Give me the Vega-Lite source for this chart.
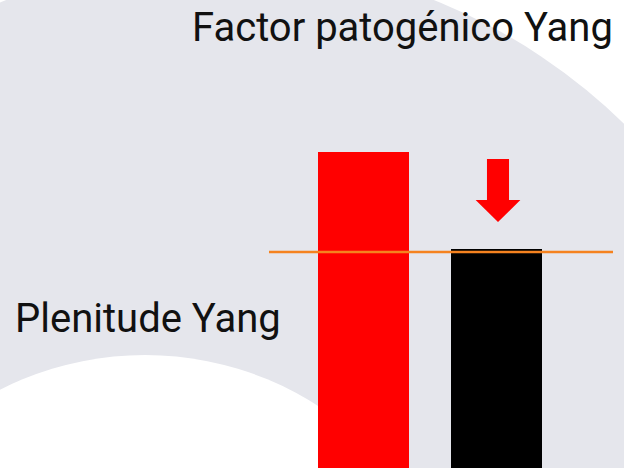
{
  "$schema": "https://vega.github.io/schema/vega-lite/v6.json",
  "width": 624,
  "height": 468,
  "autosize": {"type": "fit", "contains": "padding"},
  "padding": 0,
  "background": "#ffffff",
  "config": {"view": {"stroke": null}},
  "datasets": {
    "circles": [
      {"name": "grande", "cx": 220, "cy": -69, "d": 1156, "color": "#e5e6ec"},
      {"name": "pequeno", "cx": 145, "cy": -207, "d": 640, "color": "#ffffff"}
    ],
    "bars": [
      {"name": "Factor patogénico Yang", "x0": 318, "x1": 409, "top": 316, "color": "#ff0000"},
      {"name": "Plenitude Yang", "x0": 451, "x1": 542, "top": 219, "color": "#000000"}
    ],
    "line": [{"x0": 269, "x1": 613, "y": 216}],
    "arrow": [{"x": 498, "y": 277.5}],
    "labels": [
      {"text": "Factor patogénico Yang", "x": 192, "y": 427},
      {"text": "Plenitude Yang", "x": 15, "y": 136}
    ]
  },
  "encoding": {},
  "layer": [
    {
      "data": {"name": "circles"},
      "mark": {"type": "point", "shape": "circle", "filled": true, "opacity": 1, "clip": true, "strokeWidth": 0},
      "encoding": {
        "x": {"field": "cx", "type": "quantitative", "scale": {"domain": [0, 624], "nice": false, "zero": false}, "axis": null},
        "y": {"field": "cy", "type": "quantitative", "scale": {"domain": [0, 468], "nice": false, "zero": false}, "axis": null},
        "size": {"field": "d", "type": "quantitative", "scale": {"type": "pow", "exponent": 2, "domain": [0, 1], "range": [0, 1]}, "legend": null},
        "color": {"field": "color", "type": "nominal", "scale": null, "legend": null},
        "order": {"field": "d", "sort": "descending"}
      }
    },
    {
      "data": {"name": "bars"},
      "mark": {"type": "rect", "clip": true},
      "encoding": {
        "x": {"field": "x0", "type": "quantitative"},
        "x2": {"field": "x1"},
        "y": {"field": "top", "type": "quantitative"},
        "y2": {"datum": -20},
        "color": {"field": "color", "type": "nominal", "scale": null, "legend": null}
      }
    },
    {
      "data": {"name": "line"},
      "mark": {"type": "rule", "color": "#f5821f", "strokeWidth": 2.5},
      "encoding": {
        "x": {"field": "x0", "type": "quantitative"},
        "x2": {"field": "x1"},
        "y": {"field": "y", "type": "quantitative"}
      }
    },
    {
      "data": {"name": "arrow"},
      "mark": {"type": "point", "filled": true, "opacity": 1, "color": "#ff0000", "strokeWidth": 0, "size": 3969,
        "shape": "M-0.35,-1L0.35,-1L0.35,0.3L0.71,0.3L0,1L-0.71,0.3L-0.35,0.3Z"},
      "encoding": {
        "x": {"field": "x", "type": "quantitative"},
        "y": {"field": "y", "type": "quantitative"}
      }
    },
    {
      "data": {"name": "labels"},
      "mark": {"type": "text", "font": "Roboto", "fontSize": 40, "align": "left", "baseline": "alphabetic", "color": "#111111"},
      "encoding": {
        "x": {"field": "x", "type": "quantitative"},
        "y": {"field": "y", "type": "quantitative"},
        "text": {"field": "text"}
      }
    }
  ]
}
